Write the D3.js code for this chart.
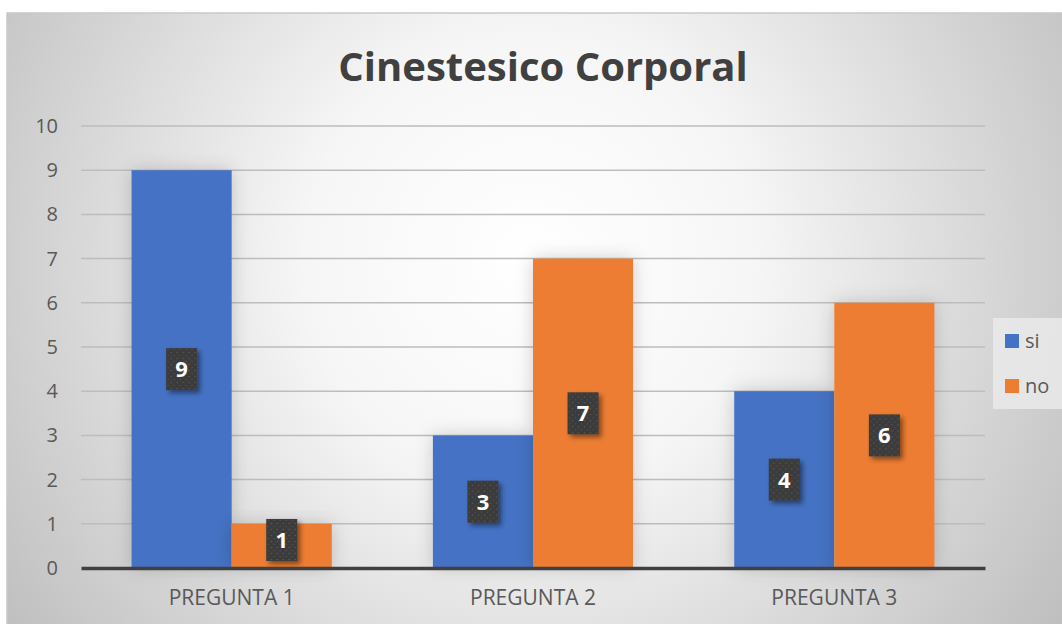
<!DOCTYPE html>
<html>
<head>
<meta charset="utf-8">
<script src="https://cdn.jsdelivr.net/npm/d3@7"></script>
<style>
  body { margin: 0; background: #fff; }
  svg text { font-family: "Open Sans", "Noto Sans", sans-serif; }
</style>
</head>
<body>
<div id="chart"></div>
<script>
'use strict';

var categories = ['PREGUNTA 1', 'PREGUNTA 2', 'PREGUNTA 3'];
var series_names = ['si', 'no'];
var si_values = [9, 3, 4];
var no_values = [1, 7, 6];
var y_ticks = [0, 1, 2, 3, 4, 5, 6, 7, 8, 9, 10];
var title_text = 'Cinestesico Corporal';

var colors = { si: '#4472c4', no: '#ed7d31' };

var width = 1062, height = 624;

var svg = d3.select('#chart')
    .append('svg')
    .attr('width', width)
    .attr('height', height);

var defs = svg.append('defs');

// background gradient, light in the middle, grey towards the corners
var bg = defs.append('radialGradient')
    .attr('id', 'bg')
    .attr('gradientUnits', 'userSpaceOnUse')
    .attr('cx', 530).attr('cy', 260).attr('r', 640);
bg.append('stop').attr('offset', '0%').attr('stop-color', '#ffffff');
bg.append('stop').attr('offset', '35%').attr('stop-color', '#f6f6f6');
bg.append('stop').attr('offset', '100%').attr('stop-color', '#bfbfbf');

// dotted fill for the data label boxes
var pat = defs.append('pattern')
    .attr('id', 'dots')
    .attr('patternUnits', 'userSpaceOnUse')
    .attr('width', 6).attr('height', 6);
pat.append('rect').attr('width', 6).attr('height', 6).attr('fill', '#3b3b3b');
pat.append('circle').attr('cx', 1.5).attr('cy', 1.5).attr('r', 0.8).attr('fill', '#5a5a5a');
pat.append('circle').attr('cx', 4.5).attr('cy', 4.5).attr('r', 0.8).attr('fill', '#505050');

var shadow = defs.append('filter')
    .attr('id', 'shadow')
    .attr('x', '-50%').attr('y', '-50%').attr('width', '200%').attr('height', '200%');
shadow.append('feDropShadow')
    .attr('dx', 3).attr('dy', 3).attr('stdDeviation', 2.5)
    .attr('flood-color', '#000').attr('flood-opacity', 0.45);

var bar_shadow = defs.append('filter')
    .attr('id', 'barshadow')
    .attr('x', '-30%').attr('y', '-30%').attr('width', '160%').attr('height', '160%');
bar_shadow.append('feDropShadow')
    .attr('dx', 0).attr('dy', 0).attr('stdDeviation', 9)
    .attr('flood-color', '#000').attr('flood-opacity', 0.18);

svg.append('rect')
    .attr('x', 7).attr('y', 13)
    .attr('width', width).attr('height', height)
    .attr('fill', 'url(#bg)')
    .attr('stroke', '#c9c9c9')
    .attr('stroke-width', 1.5);

svg.append('text')
    .attr('x', 543).attr('y', 81)
    .attr('text-anchor', 'middle')
    .attr('font-size', 40)
    .attr('font-weight', 'bold')
    .attr('fill', '#404040')
    .text(title_text);

var plot = { left: 81, right: 985, top: 126, bottom: 568 };

var x = d3.scaleBand()
    .domain(categories)
    .range([plot.left, plot.right])
    .paddingInner(0)
    .paddingOuter(0);

var x_inner = d3.scaleBand()
    .domain(series_names)
    .range([0, x.bandwidth()])
    .paddingOuter(0.505)
    .paddingInner(0);

var y = d3.scaleLinear()
    .domain([0, 10])
    .range([plot.bottom, plot.top]);

// gridlines
svg.append('g')
    .selectAll('line')
    .data(y_ticks.slice(1))
    .join('line')
    .attr('x1', plot.left).attr('x2', plot.right)
    .attr('y1', function(d) { return y(d); })
    .attr('y2', function(d) { return y(d); })
    .attr('stroke', '#bdbdbd')
    .attr('stroke-width', 1.5);

// y axis labels
var y_axis = svg.append('g')
    .attr('transform', 'translate(' + (plot.left - 23) + ',0)')
    .call(d3.axisLeft(y).tickValues(y_ticks).tickSize(0).tickPadding(0));
y_axis.select('.domain').remove();
y_axis.attr('font-size', 20).attr('font-family', '"Open Sans", sans-serif');
y_axis.selectAll('text')
    .attr('fill', '#595959');

var rows = categories.map(function(c, i) {
    return { cat: c, si: si_values[i], no: no_values[i] };
});

var groups = svg.append('g')
    .selectAll('g')
    .data(rows)
    .join('g')
    .attr('transform', function(d) { return 'translate(' + x(d.cat) + ',0)'; });

var bars = groups.selectAll('rect')
    .data(function(d) {
        return series_names.map(function(s) { return { key: s, value: d[s] }; });
    })
    .join('rect')
    .attr('x', function(d) { return x_inner(d.key); })
    .attr('y', function(d) { return y(d.value); })
    .attr('width', x_inner.bandwidth())
    .attr('height', function(d) { return y(0) - y(d.value); })
    .attr('fill', function(d) { return colors[d.key]; })
    .attr('filter', 'url(#barshadow)');

// x axis line + category labels
var x_axis = svg.append('g')
    .attr('transform', 'translate(0,' + plot.bottom + ')')
    .call(d3.axisBottom(x).tickSize(0).tickPadding(22));
x_axis.attr('font-size', 21).attr('font-family', '"Open Sans", sans-serif');
x_axis.select('.domain')
    .attr('stroke', '#404040')
    .attr('stroke-width', 3.5);
x_axis.selectAll('text')
    .attr('fill', '#595959');

// data labels
var box_w = 31, box_h = 42;
var labels = groups.selectAll('g.lbl')
    .data(function(d) {
        return series_names.map(function(s) { return { key: s, value: d[s] }; });
    })
    .join('g')
    .attr('class', 'lbl')
    .attr('transform', function(d) {
        var cx = x_inner(d.key) + x_inner.bandwidth() / 2;
        var cy = Math.min((y(0) + y(d.value)) / 2, y(0) - 28);
        return 'translate(' + cx + ',' + cy + ')';
    });

labels.append('rect')
    .attr('x', -box_w / 2).attr('y', -box_h / 2)
    .attr('width', box_w).attr('height', box_h)
    .attr('fill', 'url(#dots)')
    .attr('filter', 'url(#shadow)');

labels.append('text')
    .attr('text-anchor', 'middle')
    .attr('dy', '0.36em')
    .attr('font-size', 22)
    .attr('font-weight', 'bold')
    .attr('fill', '#ffffff')
    .text(function(d) { return d.value; });

// legend
var legend = svg.append('g');
legend.append('rect')
    .attr('x', 993).attr('y', 318)
    .attr('width', 80).attr('height', 91)
    .attr('fill', '#ebebeb')
    .attr('opacity', 0.8);

var items = legend.selectAll('g')
    .data(series_names)
    .join('g')
    .attr('transform', function(d, i) { return 'translate(1005,' + (334 + i * 45) + ')'; });
items.append('rect')
    .attr('width', 14).attr('height', 14)
    .attr('fill', function(d) { return colors[d]; });
items.append('text')
    .attr('x', 20).attr('y', 7)
    .attr('dy', '0.35em')
    .attr('font-size', 20)
    .attr('fill', '#595959')
    .text(function(d) { return d; });
</script>
</body>
</html>
